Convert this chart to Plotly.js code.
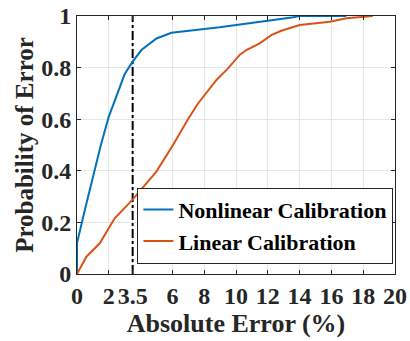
<!DOCTYPE html>
<html><head><meta charset="utf-8">
<script src="https://cdn.plot.ly/plotly-3.0.1.min.js"></script>
<style>html,body{margin:0;padding:0;background:#fff}#chart{width:410px;height:341px}</style>
</head><body><div id="chart"></div>
<script>
var nonlinearX = [0, 0, 0.5, 1, 1.5, 2, 3.0, 3.5, 4.05, 5.0, 5.94, 8.97, 10.97, 12.0, 13.6, 14.0, 16.94];
var nonlinearY = [0, 0.12, 0.25, 0.38, 0.5, 0.61, 0.775, 0.823, 0.868, 0.913, 0.935, 0.956, 0.975, 0.982, 0.995, 1.0, 1.0];
var linearX = [0, 0.59, 1.43, 2.37, 3.48, 4.99, 6.04, 6.98, 7.6, 8.77, 9.5, 10.23, 10.65, 11.49, 12.22, 12.85, 14.0, 15.9, 16.94, 18.6];
var linearY = [0, 0.067, 0.119, 0.216, 0.287, 0.397, 0.5, 0.6, 0.66, 0.752, 0.797, 0.849, 0.868, 0.894, 0.926, 0.943, 0.965, 0.978, 0.991, 1.0];
var thresholdX = [3.5, 3.5];
var thresholdY = [0, 1];
var xTickVals = [0, 2, 3.5, 6, 8, 10, 12, 14, 16, 18, 20];
var xTickText = ['0', '2', '3.5', '6', '8', '10', '12', '14', '16', '18', '20'];
var yTickVals = [0, 0.2, 0.4, 0.6, 0.8, 1];
var yTickText = ['0', '0.2', '0.4', '0.6', '0.8', '1'];

var serif = 'Liberation Serif, Times New Roman, serif';
var traces = [
  {x: thresholdX, y: thresholdY, mode: 'lines', line: {color: '#000', width: 2, dash: 'dashdot'}, showlegend: false, hoverinfo: 'skip'},
  {x: nonlinearX, y: nonlinearY, mode: 'lines', name: 'Nonlinear Calibration', line: {color: '#0072BD', width: 2}},
  {x: linearX, y: linearY, mode: 'lines', name: 'Linear Calibration', line: {color: '#D95319', width: 2}}
];
var axisCommon = {
  showline: true, linecolor: '#262626', linewidth: 1, mirror: 'ticks',
  ticks: 'inside', ticklen: 4, tickcolor: '#262626',
  showgrid: true, gridcolor: '#e6e6e6', gridwidth: 1, zeroline: false,
  tickfont: {family: serif, size: 24, color: '#262626', weight: 'bold'}
};
var layout = {
  width: 410, height: 341,
  margin: {l: 77, r: 15, t: 16, b: 67},
  paper_bgcolor: '#fff', plot_bgcolor: '#fff',
  font: {family: serif, color: '#262626'},
  xaxis: Object.assign({}, axisCommon, {
    range: [0, 20], tickmode: 'array', tickvals: xTickVals, ticktext: xTickText,
    title: {text: 'Absolute Error (%)', font: {family: serif, size: 26, color: '#262626', weight: 'bold'}, standoff: 0}
  }),
  yaxis: Object.assign({}, axisCommon, {
    range: [0, 1], tickmode: 'array', tickvals: yTickVals, ticktext: yTickText,
    title: {text: 'Probability of Error', font: {family: serif, size: 25, color: '#262626', weight: 'bold'}, standoff: 0}
  }),
  legend: {
    x: 0.995, xanchor: 'right', y: 0.04, yanchor: 'bottom',
    bgcolor: '#fff', bordercolor: '#262626', borderwidth: 1,
    font: {family: serif, size: 22, color: '#000', weight: 'bold'},
    tracegroupgap: 0, itemwidth: 30
  },
  showlegend: true
};
Plotly.newPlot('chart', traces, layout, {displayModeBar: false, staticPlot: true});
</script>
</body></html>
